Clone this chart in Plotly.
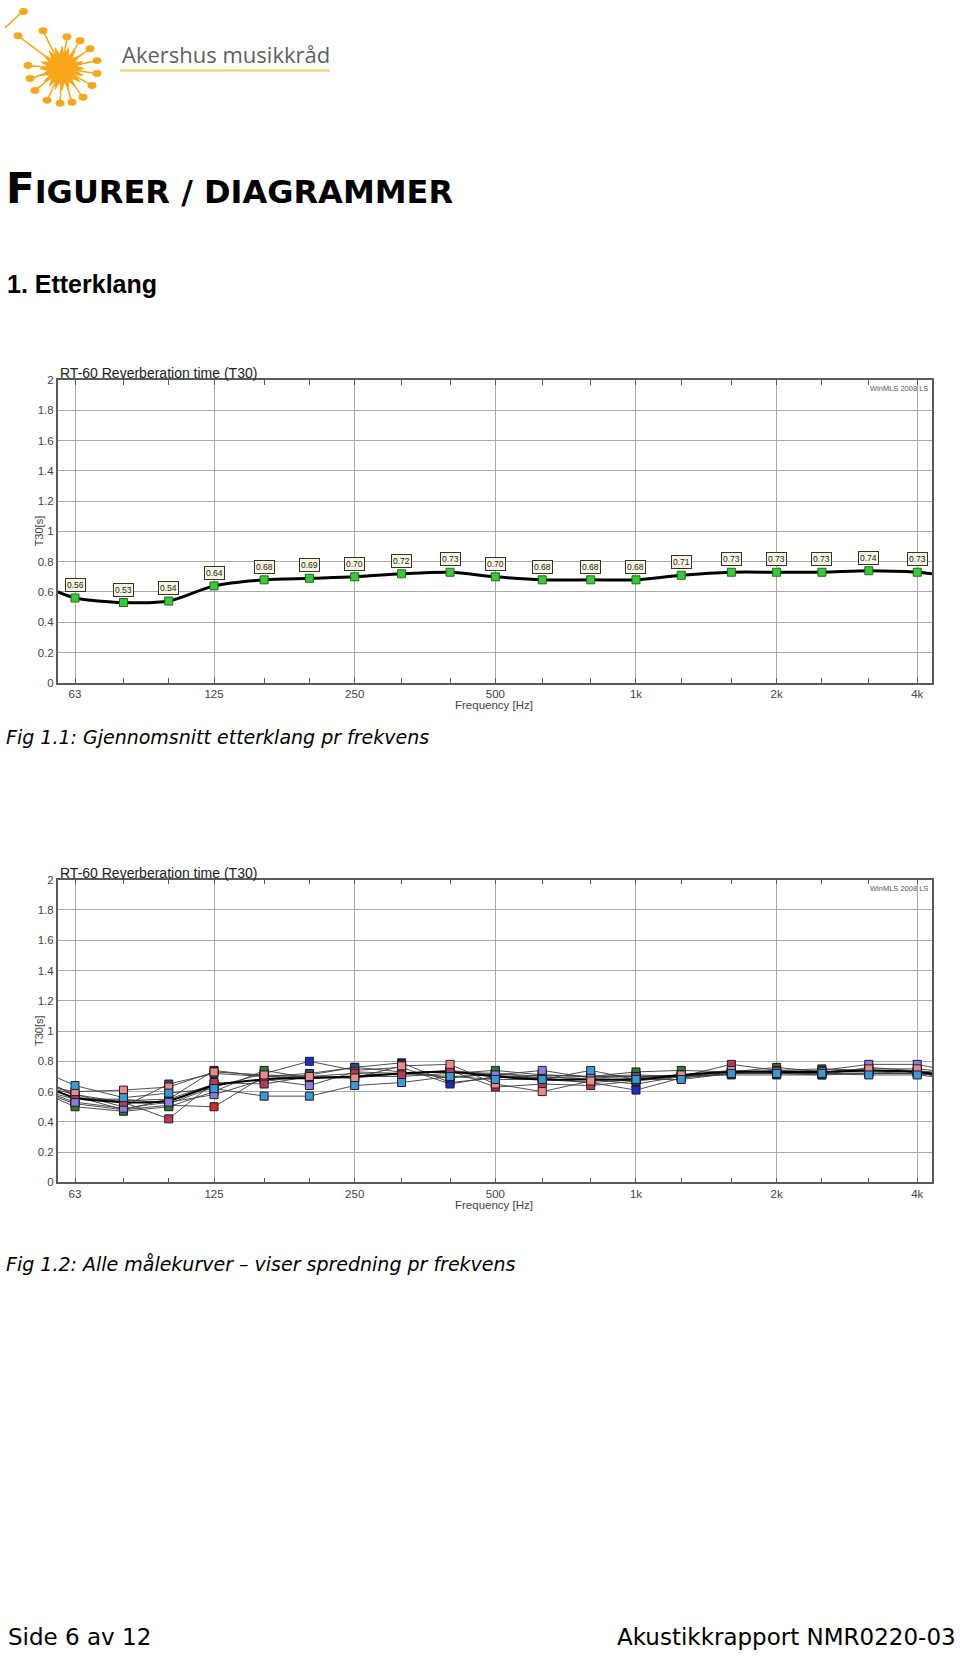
import math
import plotly.graph_objects as go

W, H = 960, 1660

colors = {'lblue': 'rgb(58,154,217)',
          'pink': 'rgb(240,138,138)',
          'green': 'rgb(46,122,46)',
          'crimson': 'rgb(184,56,90)',
          'lavender': 'rgb(138,126,224)',
          'navy': 'rgb(26,35,110)',
          'black': 'rgb(20,20,20)',
          'dblue': 'rgb(28,44,204)',
          'slate': 'rgb(45,77,111)',
          'red': 'rgb(212,42,42)',
          }

# third-octave bands
freqs = [63, 80, 100, 125, 160, 200, 250, 315, 400, 500, 630, 800,
         1000, 1250, 1600, 2000, 2500, 3150, 4000]
tick_vals = [63, 125, 250, 500, 1000, 2000, 4000]
tick_text = ['63', '125', '250', '500', '1k', '2k', '4k']
y_vals = [0, 0.2, 0.4, 0.6, 0.8, 1, 1.2, 1.4, 1.6, 1.8, 2]
y_text = ['0', '0.2', '0.4', '0.6', '0.8', '1', '1.2', '1.4', '1.6', '1.8', '2']

# Fig 1.1 average T30
avg_t30 = [0.56, 0.53, 0.54, 0.64, 0.68, 0.69, 0.70, 0.72, 0.73, 0.70,
           0.68, 0.68, 0.68, 0.71, 0.73, 0.73, 0.73, 0.74, 0.73]
edge_freqs = [57.9, 4300]
avg_edges = [0.60, 0.72]

# Fig 1.2 all measured curves (drawing order: first ends up underneath)
curves = {
    'red':      [0.52, 0.48, 0.51, 0.50, 0.70, 0.69, 0.69, 0.72, 0.70, 0.71, 0.68, 0.66, 0.68, 0.70, 0.72, 0.72, 0.72, 0.72, 0.72],
    'black':    [0.57, 0.48, 0.55, 0.74, 0.70, 0.69, 0.70, 0.72, 0.73, 0.72, 0.70, 0.68, 0.65, 0.70, 0.73, 0.73, 0.73, 0.74, 0.73],
    'navy':     [0.56, 0.54, 0.55, 0.65, 0.68, 0.71, 0.76, 0.79, 0.66, 0.69, 0.71, 0.70, 0.70, 0.70, 0.71, 0.71, 0.71, 0.76, 0.74],
    'dblue':    [0.55, 0.55, 0.52, 0.63, 0.72, 0.80, 0.74, 0.76, 0.65, 0.70, 0.69, 0.66, 0.61, 0.69, 0.72, 0.72, 0.71, 0.72, 0.72],
    'slate':    [0.58, 0.50, 0.65, 0.72, 0.70, 0.72, 0.76, 0.73, 0.69, 0.72, 0.69, 0.70, 0.71, 0.70, 0.73, 0.74, 0.75, 0.74, 0.73],
    'green':    [0.50, 0.47, 0.50, 0.60, 0.74, 0.69, 0.70, 0.70, 0.72, 0.74, 0.71, 0.70, 0.73, 0.74, 0.73, 0.76, 0.73, 0.73, 0.72],
    'lavender': [0.53, 0.49, 0.53, 0.58, 0.68, 0.64, 0.73, 0.72, 0.74, 0.71, 0.74, 0.69, 0.70, 0.71, 0.73, 0.73, 0.74, 0.78, 0.78],
    'crimson':  [0.58, 0.53, 0.42, 0.66, 0.65, 0.70, 0.72, 0.71, 0.74, 0.63, 0.65, 0.64, 0.67, 0.70, 0.78, 0.74, 0.73, 0.74, 0.73],
    'pink':     [0.60, 0.61, 0.63, 0.73, 0.71, 0.70, 0.69, 0.77, 0.78, 0.65, 0.60, 0.67, 0.69, 0.71, 0.74, 0.73, 0.73, 0.75, 0.75],
    'lblue':    [0.64, 0.56, 0.59, 0.62, 0.57, 0.57, 0.64, 0.66, 0.70, 0.68, 0.68, 0.74, 0.68, 0.68, 0.72, 0.72, 0.72, 0.71, 0.71],
}
curve_left = {'lblue': 0.69, 'pink': 0.62, 'green': 0.55, 'crimson': 0.63, 'lavender': 0.57,
              'navy': 0.60, 'black': 0.63, 'dblue': 0.58, 'slate': 0.61, 'red': 0.56}
curve_right = {'lblue': 0.70, 'pink': 0.74, 'green': 0.71, 'crimson': 0.72, 'lavender': 0.76,
               'navy': 0.73, 'black': 0.71, 'dblue': 0.71, 'slate': 0.72, 'red': 0.71}


def px(x):
    return x / W


def py(y):
    return 1 - y / H


fig = go.Figure()

# ---- Fig 1.1
fig.add_trace(go.Scatter(
    x=[edge_freqs[0]] + freqs + [edge_freqs[1]],
    y=[avg_edges[0]] + avg_t30 + [avg_edges[1]],
    mode='lines', line=dict(color='black', width=3, shape='spline', smoothing=0.8),
    xaxis='x', yaxis='y', showlegend=False))
fig.add_trace(go.Scatter(
    x=freqs, y=avg_t30, mode='markers',
    marker=dict(symbol='square', size=8, color='rgb(60,200,60)',
                line=dict(color='rgb(25,110,25)', width=1)),
    xaxis='x', yaxis='y', showlegend=False))

# ---- Fig 1.2
for name, vals in curves.items():
    fig.add_trace(go.Scatter(
        x=[edge_freqs[0]] + freqs + [edge_freqs[1]],
        y=[curve_left[name]] + vals + [curve_right[name]],
        mode='lines', line=dict(color='rgb(60,60,60)', width=0.9),
        xaxis='x2', yaxis='y2', showlegend=False))
fig.add_trace(go.Scatter(
    x=[edge_freqs[0]] + freqs + [edge_freqs[1]],
    y=[avg_edges[0]] + avg_t30 + [avg_edges[1]],
    mode='lines', line=dict(color='black', width=2, shape='spline', smoothing=0.8),
    xaxis='x2', yaxis='y2', showlegend=False))
for name, vals in curves.items():
    fig.add_trace(go.Scatter(
        x=freqs, y=vals, mode='markers',
        marker=dict(symbol='square', size=8, color=colors[name],
                    line=dict(color='rgb(30,30,30)', width=1)),
        xaxis='x2', yaxis='y2', showlegend=False))

# value boxes on Fig 1.1
annotations = []
for f, v in zip(freqs, avg_t30):
    annotations.append(dict(
        x=math.log10(f), y=v, xref='x', yref='y', text='%.2f' % v, showarrow=False,
        yshift=13, font=dict(family='Liberation Sans', size=8.5, color='#222'),
        bgcolor='rgb(248,246,224)', bordercolor='#333', borderwidth=1, borderpad=1))

# axes
chart_font = dict(family='Liberation Sans', size=11.5, color='#444')
xr = [1.7623, 3.6342]
xdom = [px(57.7), px(932.3)]
ydoms = [[py(681.7), py(376.7)], [py(1185), py(880)]]
tops = [376.7, 880]
bottoms = [681.7, 1185]

layout_axes = {}
for i, (xa, ya) in enumerate([('xaxis', 'yaxis'), ('xaxis2', 'yaxis2')]):
    layout_axes[xa] = dict(
        type='log', range=xr, domain=xdom, anchor='y' if i == 0 else 'y2',
        tickvals=tick_vals, ticktext=tick_text, tickfont=chart_font,
        showgrid=True, gridcolor='rgb(170,170,170)', gridwidth=1,
        showline=True, linecolor='rgb(90,90,90)', linewidth=1.5, mirror='ticks',
        ticks='inside', ticklen=5, tickcolor='rgb(90,90,90)',
        minor=dict(tickvals=freqs, ticks='inside', ticklen=5, tickcolor='rgb(90,90,90)', showgrid=False),
        zeroline=False, fixedrange=True)
    layout_axes[ya] = dict(
        range=[0, 2], domain=ydoms[i], anchor='x' if i == 0 else 'x2',
        tickvals=y_vals, ticktext=y_text, tickfont=chart_font, ticks='',
        showgrid=True, gridcolor='rgb(170,170,170)', gridwidth=1,
        showline=True, linecolor='rgb(90,90,90)', linewidth=1.5, mirror=True,
        zeroline=False, fixedrange=True)

    annotations += [
        dict(x=px(58), y=py(tops[i] - 7), xref='paper', yref='paper', xanchor='left', yanchor='middle',
             text='RT-60 Reverberation time (T30)', showarrow=False,
             font=dict(family='Liberation Sans', size=14, color='#222')),
        dict(x=px(930), y=py(tops[i] + 2), xref='paper', yref='paper', xanchor='right', yanchor='top',
             text='WinMLS 2008 LS', showarrow=False,
             font=dict(family='Liberation Sans', size=7.5, color='#555')),
        dict(x=px(494), y=py(bottoms[i] + 22.5), xref='paper', yref='paper', xanchor='center', yanchor='middle',
             text='Frequency [Hz]', showarrow=False, font=chart_font),
        dict(x=px(39), y=py((tops[i] + bottoms[i]) / 2), xref='paper', yref='paper',
             xanchor='center', yanchor='middle', textangle=-90,
             text='T30[s]', showarrow=False, font=dict(family='Liberation Sans', size=11, color='#444')),
    ]

# page text
annotations += [
    dict(x=px(120), y=py(48), xref='paper', yref='paper', xanchor='left', yanchor='middle',
         text='Akershus musikkråd', showarrow=False,
         font=dict(family='Open Sans', size=22, color='rgb(95,95,95)')),
    dict(x=px(4), y=py(184), xref='paper', yref='paper', xanchor='left', yanchor='middle',
         text="<b><span style='font-size:42px'>F</span>IGURER / DIAGRAMMER</b>", showarrow=False,
         font=dict(family='DejaVu Sans', size=32, color='black')),
    dict(x=px(5), y=py(280), xref='paper', yref='paper', xanchor='left', yanchor='middle',
         text='<b>1. Etterklang</b>', showarrow=False,
         font=dict(family='Liberation Sans', size=25, color='black')),
    dict(x=px(4), y=py(736), xref='paper', yref='paper', xanchor='left', yanchor='middle',
         text='<i>Fig 1.1: Gjennomsnitt etterklang pr frekvens</i>', showarrow=False,
         font=dict(family='DejaVu Sans', size=19, color='black')),
    dict(x=px(4), y=py(1267), xref='paper', yref='paper', xanchor='left', yanchor='middle',
         text='<i>Fig 1.2: Alle målekurver – viser spredning pr frekvens</i>', showarrow=False,
         font=dict(family='DejaVu Sans', size=19, color='black')),
    dict(x=px(6), y=py(1643), xref='paper', yref='paper', xanchor='left', yanchor='middle',
         text='Side 6 av 12', showarrow=False,
         font=dict(family='DejaVu Sans', size=23, color='black')),
    dict(x=px(958), y=py(1643), xref='paper', yref='paper', xanchor='right', yanchor='middle',
         text='Akustikkrapport NMR0220-03', showarrow=False,
         font=dict(family='DejaVu Sans', size=23, color='black')),
]

# logo
sun = 'rgb(246,168,26)'
cx, cy = 62, 63
shapes = [dict(type='line', xref='paper', yref='paper', x0=px(120), x1=px(330), y0=py(65), y1=py(65),
               line=dict(color='rgb(240,200,100)', width=2))]
star = []
for k in range(40):
    r = 22 if k % 2 == 0 else 14
    a = math.pi * k / 20
    star.append('%s%.5f,%.5f' % ('M' if k == 0 else 'L', px(cx + r * math.cos(a)), py(cy + r * math.sin(a))))
shapes.append(dict(type='path', xref='paper', yref='paper', path=' '.join(star) + ' Z',
                   fillcolor=sun, line=dict(color=sun, width=1)))
notes = [(18, 30), (43, 25), (67, 31), (80, 35), (90, 43), (97, 55), (97, 68), (92, 80), (83, 92),
         (72, 97), (60, 98), (47, 95), (35, 85), (30, 73), (28, 60)]
for nx, ny in notes:
    shapes.append(dict(type='line', xref='paper', yref='paper', x0=px(cx), y0=py(cy), x1=px(nx), y1=py(ny),
                       line=dict(color=sun, width=1.5)))
    shapes.append(dict(type='circle', xref='paper', yref='paper', x0=px(nx - 4.5), x1=px(nx + 4.5),
                       y0=py(ny - 3.5), y1=py(ny + 3.5), fillcolor=sun, line=dict(color=sun, width=0)))
shapes.append(dict(type='line', xref='paper', yref='paper', x0=px(5), y0=py(22), x1=px(22), y1=py(6),
                   line=dict(color=sun, width=1.5)))
shapes.append(dict(type='circle', xref='paper', yref='paper', x0=px(19), x1=px(28), y0=py(2), y1=py(9),
                   fillcolor=sun, line=dict(color=sun, width=0)))

fig.update_layout(
    width=W, height=H, margin=dict(l=0, r=0, t=0, b=0, pad=0),
    paper_bgcolor='white', plot_bgcolor='white',
    annotations=annotations, shapes=shapes, **layout_axes)

fig.write_html('out.html', config={'displayModeBar': False},
               post_script="document.body.style.margin='0';")
